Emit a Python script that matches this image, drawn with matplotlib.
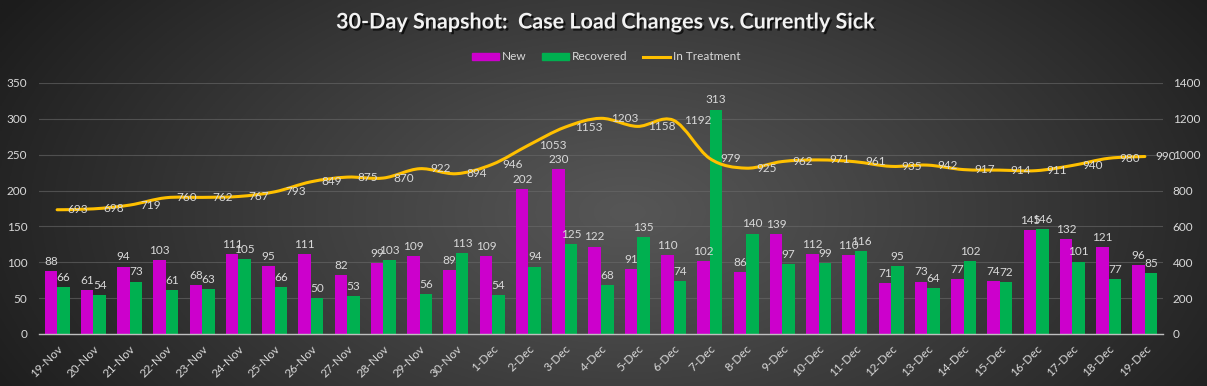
import numpy as np
import matplotlib
matplotlib.use("Agg")
import matplotlib.pyplot as plt
from matplotlib.path import Path
from matplotlib.patches import PathPatch, Patch
from matplotlib.lines import Line2D
import matplotlib.patheffects as pe

# ---------------- data ----------------
dates = ["19-Nov", "20-Nov", "21-Nov", "22-Nov", "23-Nov", "24-Nov", "25-Nov", "26-Nov",
         "27-Nov", "28-Nov", "29-Nov", "30-Nov", "1-Dec", "2-Dec", "3-Dec", "4-Dec",
         "5-Dec", "6-Dec", "7-Dec", "8-Dec", "9-Dec", "10-Dec", "11-Dec", "12-Dec",
         "13-Dec", "14-Dec", "15-Dec", "16-Dec", "17-Dec", "18-Dec", "19-Dec"]
new_cases = [88, 61, 94, 103, 68, 111, 95, 111, 82, 99, 109, 89, 109, 202, 230, 122,
             91, 110, 102, 86, 139, 112, 110, 71, 73, 77, 74, 145, 132, 121, 96]
recovered = [66, 54, 73, 61, 63, 105, 66, 50, 53, 103, 56, 113, 54, 94, 125, 68,
             135, 74, 313, 140, 97, 99, 116, 95, 64, 102, 72, 146, 101, 77, 85]
in_treatment = [693, 698, 719, 760, 762, 767, 793, 849, 875, 870, 922, 894, 946, 1053,
                1153, 1203, 1158, 1192, 979, 925, 962, 971, 961, 935, 942, 917, 914,
                911, 940, 980, 990]
left_ticks = [0, 50, 100, 150, 200, 250, 300, 350]
right_ticks = [0, 200, 400, 600, 800, 1000, 1200, 1400]

# ---------------- style ----------------
FONT = ["Lato", "DejaVu Sans"]
plt.rcParams["font.family"] = FONT
C_NEW = "#CC00CC"
C_REC = "#00B050"
C_LINE = "#FFC000"
C_TXT = "#D9D9D9"
FS = 8.5

W, H = 1207, 386
fig = plt.figure(figsize=(W / 100, H / 100), dpi=100)

# radial gradient background
bg = fig.add_axes([0, 0, 1, 1], zorder=-10)
yy, xx = np.mgrid[0:1:200j, 0:1:600j]
r = np.sqrt(((xx - 0.52) / 0.60) ** 2 + ((yy - 0.45) / 1.05) ** 2)
r = np.clip(r, 0, 1) ** 1.1
c_in = np.array([0x56, 0x56, 0x56]) / 255
c_out = np.array([0x1c, 0x1c, 0x1c]) / 255
img = c_in[None, None, :] * (1 - r[..., None]) + c_out[None, None, :] * r[..., None]
bg.imshow(img, extent=[0, 1, 0, 1], aspect="auto", origin="lower")
bg.axis("off")

ax = fig.add_axes([39 / W, 1 - 334 / H, (1163 - 39) / W, (334 - 83) / H])
ax.set_facecolor("none")
ax2 = ax.twinx()
ax2.set_facecolor("none")

n = len(dates)
x = np.arange(n)
bw = 0.345

ax.bar(x - bw / 2, new_cases, bw, color=C_NEW, zorder=2)
ax.bar(x + bw / 2, recovered, bw, color=C_REC, zorder=2)

for xi, v in zip(x, new_cases):
    ax.annotate(str(v), (xi - bw / 2, v), xytext=(0, 3), textcoords="offset points",
                ha="center", va="bottom", color=C_TXT, fontsize=FS, zorder=6)
for xi, v in zip(x, recovered):
    ax.annotate(str(v), (xi + bw / 2, v), xytext=(0, 3), textcoords="offset points",
                ha="center", va="bottom", color=C_TXT, fontsize=FS, zorder=6)

# smoothed line (Catmull-Rom -> cubic Bezier) on secondary axis
pts = np.column_stack([x, in_treatment]).astype(float)
verts = [tuple(pts[0])]
codes = [Path.MOVETO]
for i in range(n - 1):
    p0 = pts[i - 1] if i > 0 else pts[i]
    p1 = pts[i]
    p2 = pts[i + 1]
    p3 = pts[i + 2] if i + 2 < n else pts[i + 1]
    c1 = p1 + (p2 - p0) / 6.0
    c2 = p2 - (p3 - p1) / 6.0
    verts += [tuple(c1), tuple(c2), tuple(p2)]
    codes += [Path.CURVE4] * 3
ax2.add_patch(PathPatch(Path(verts, codes), facecolor="none", edgecolor=C_LINE,
                        lw=2.2, zorder=4, capstyle="round", joinstyle="round"))
for xi, v in zip(x, in_treatment):
    ax2.annotate(str(v), (xi, v), xytext=(7.5, 0), textcoords="offset points",
                 ha="left", va="center", color=C_TXT, fontsize=FS, zorder=6)

ax.set_xlim(-0.5, n - 0.5)
ax.set_ylim(0, 350)
ax2.set_ylim(0, 1400)
ax.set_yticks(left_ticks)
ax2.set_yticks(right_ticks)
ax.set_xticks(x)
ax.set_xticklabels(dates, rotation=45, ha="right", rotation_mode="anchor",
                   color=C_TXT, fontsize=FS)
ax.tick_params(axis="x", length=0, pad=6.5)
ax.tick_params(axis="y", length=0, pad=8.5, labelcolor=C_TXT, labelsize=FS)
ax2.tick_params(axis="y", length=0, pad=7, labelcolor=C_TXT, labelsize=FS)
ax.grid(axis="y", color="#6a6a6a", lw=0.8, alpha=0.6, zorder=0)
ax.set_axisbelow(True)
for a in (ax, ax2):
    for s in a.spines.values():
        s.set_visible(False)
ax.spines["bottom"].set_visible(True)
ax.spines["bottom"].set_color("#BFBFBF")
ax.spines["bottom"].set_linewidth(1.0)
ax.spines["bottom"].set_zorder(3)

# title
fig.text(0.5015, 1 - 22 / H, "30-Day Snapshot:  Case Load Changes vs. Currently Sick",
         ha="center", va="center", color="#F2F2F2", fontsize=15.5, fontweight="bold",
         family=FONT,
         path_effects=[pe.withSimplePatchShadow(offset=(1.5, -1.5), shadow_rgbFace="black",
                                                alpha=0.7)])

# legend
handles = [Patch(color=C_NEW, label="New"),
           Patch(color=C_REC, label="Recovered"),
           Line2D([0], [0], color=C_LINE, lw=2.2, label="In Treatment")]
leg = fig.legend(handles=handles, loc="center", bbox_to_anchor=(606 / W, 1 - 57 / H),
                 ncol=3, frameon=False, fontsize=FS, handlelength=2.3,
                 handleheight=0.6, columnspacing=1.3, handletextpad=0.25)
for t in leg.get_texts():
    t.set_color(C_TXT)

fig.savefig("out.png", dpi=100)
